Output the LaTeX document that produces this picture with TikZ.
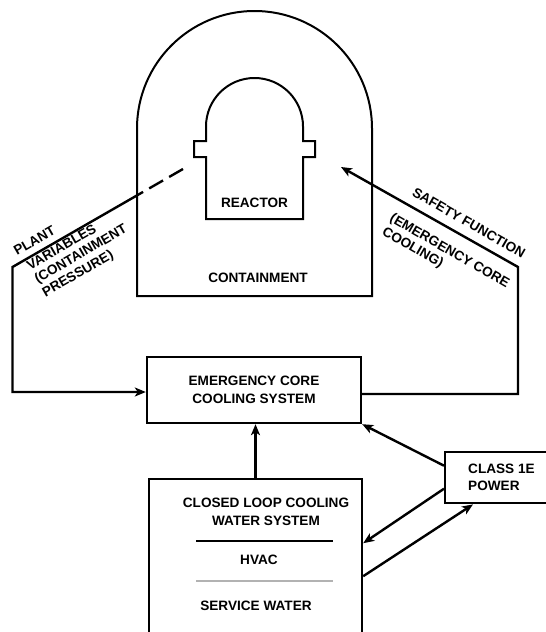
\documentclass[tikz,border=0pt]{standalone}
\usepackage{fontspec}
\setmainfont{Liberation Sans}
\usetikzlibrary{arrows.meta,positioning}

\begin{document}
\begin{tikzpicture}[x=1pt,y=-1pt,
  box/.style={draw,line width=2.4pt,align=center,font=\fontsize{13.6}{17.5}\selectfont\bfseries},
  txt/.style={inner sep=0pt,align=center,font=\fontsize{13.6}{17.5}\selectfont\bfseries},
  lbl/.style={inner sep=0pt,align=left,font=\fontsize{13.6}{15.5}\selectfont\bfseries},
  wire/.style={line width=2.4pt},
  arr/.style={-{Stealth[length=11pt,width=9pt,inset=3pt]},line width=2.4pt}]
\clip (0,0) rectangle (546,632);
% containment building and reactor vessel
\draw[line width=2pt] (137,296) -- (137,128.5) arc[start angle=180,end angle=0,radius=117.5pt] -- (372,296) -- cycle;
\draw[line width=2pt] (206,126.5) arc[start angle=180,end angle=0,radius=48.5pt]
  -- (303,141) -- (315,141) -- (315,157) -- (303,157) -- (303,219) -- (206,219)
  -- (206,157) -- (194,157) -- (194,141) -- (206,141) -- cycle;
\node[txt] (reactor) at (254.5,203) {REACTOR};
\node[txt] (cont) at (258,278) {CONTAINMENT};
% systems
\node[box,minimum width=214pt,minimum height=66pt] (eccs) at (254,390) {EMERGENCY CORE\\COOLING SYSTEM};
\node[box,minimum width=213pt,minimum height=190pt,anchor=north] (loop) at (255.5,478) {};
\node[txt] (ccw) at (266,512) {CLOSED LOOP COOLING\\WATER SYSTEM};
\node[txt] (hvac) at (259,560) {HVAC};
\node[txt] (sw) at (256,606) {SERVICE WATER};
\draw[line width=1.3pt] (196,541) -- (333,541);
\draw[line width=1.6pt,gray!60] (196,581) -- (333,581);
\node[box,minimum width=160pt,minimum height=51pt,anchor=north west] (pwr) at (444,451) {};
\node[lbl,anchor=west,font=\fontsize{13.6}{17.5}\selectfont\bfseries] (pwrtxt) at (468,477.5) {CLASS 1E\\POWER};
% signal paths
\coordinate (sensor) at (183,169);
\coordinate (wallpt) at (137,195.4);
\coordinate (pvcorner) at (12.5,267);
\coordinate (sfcorner) at (518,267);
\coordinate (sftip) at (341,167);
\draw[wire,dash pattern=on 16pt off 7pt] (sensor) -- (wallpt);
\draw[arr] (wallpt) -- (pvcorner) |- ([yshift=-2pt]eccs.west);
\draw[arr] ([yshift=-4pt]eccs.east) -| (sfcorner) -- (sftip);
\node[lbl,rotate=30,anchor=base west] (plant) at (17,256) {PLANT};
\node[lbl,rotate=30,anchor=north west] (pvar) at (25,262) {VARIABLES\\(CONTAINMENT\\PRESSURE)};
\node[lbl,rotate=-30,anchor=base east] (sf) at (522,259) {SAFETY FUNCTION};
\node[lbl,rotate=-30,anchor=north west] (sfsub) at (394,212) {(EMERGENCY CORE\\COOLING)};
% support systems
\draw[arr] (loop.north) -- (loop.north |- eccs.south);
\draw[arr] ([yshift=12pt]pwr.west) -- (eccs.south east);
\draw[arr] ([yshift=-11pt]pwr.west) -- ([yshift=31pt]loop.east);
\draw[arr] ([yshift=-2pt]loop.east) -- ([xshift=29pt]pwr.south west);
\end{tikzpicture}
\end{document}
